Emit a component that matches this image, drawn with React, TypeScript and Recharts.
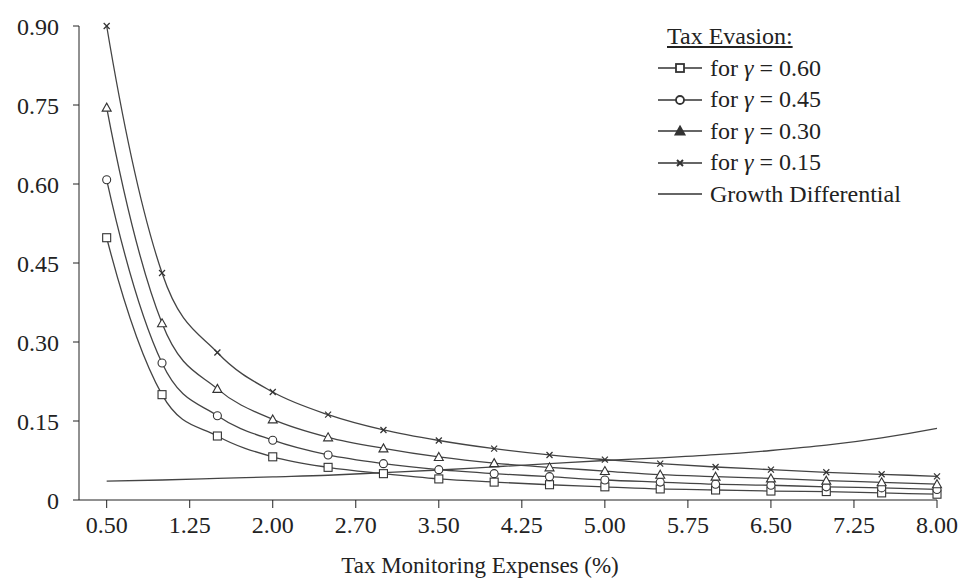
import React from 'react';
import { LineChart, Line, XAxis, YAxis } from 'recharts';

// x positions of the markers (tax monitoring expenses, %)
const expenses = [0.5, 1.0, 1.5, 2.0, 2.5, 3.0, 3.5, 4.0, 4.5, 5.0, 5.5, 6.0, 6.5, 7.0, 7.5, 8.0];

// tax evasion for each gamma
const gamma060 = [0.498, 0.2, 0.1215, 0.082, 0.062, 0.05, 0.04, 0.034, 0.029, 0.025, 0.021, 0.019, 0.017, 0.016, 0.0135, 0.011];
const gamma045 = [0.608, 0.26, 0.16, 0.1135, 0.0855, 0.069, 0.0576, 0.05, 0.0443, 0.038, 0.034, 0.03, 0.028, 0.025, 0.023, 0.02];
const gamma030 = [0.745, 0.3356, 0.211, 0.153, 0.119, 0.098, 0.0817, 0.07, 0.062, 0.055, 0.048, 0.0443, 0.041, 0.0367, 0.0336, 0.03];
const gamma015 = [0.9, 0.431, 0.28, 0.205, 0.162, 0.133, 0.113, 0.0975, 0.0855, 0.0766, 0.069, 0.0627, 0.0576, 0.0526, 0.0488, 0.045];
const growth = [0.036, 0.038, 0.041, 0.044, 0.047, 0.052, 0.057, 0.063, 0.069, 0.075, 0.08, 0.086, 0.094, 0.104, 0.118, 0.136];

const xTicks = [0.5, 1.25, 2.0, 2.75, 3.5, 4.25, 5.0, 5.75, 6.5, 7.25, 8.0];
const xTickLabels = ['0.50', '1.25', '2.00', '2.70', '3.50', '4.25', '5.00', '5.75', '6.50', '7.25', '8.00'];
const yTicks = [0, 0.15, 0.3, 0.45, 0.6, 0.75, 0.9];
const yTickLabels = ['0', '0.15', '0.30', '0.45', '0.60', '0.75', '0.90'];

const legendItems = [
  { key: 'g060', gamma: '0.60', marker: 'square' },
  { key: 'g045', gamma: '0.45', marker: 'circle' },
  { key: 'g030', gamma: '0.30', marker: 'triangle' },
  { key: 'g015', gamma: '0.15', marker: 'cross' },
];

const data = expenses.map((x, i) => ({
  x,
  g060: gamma060[i],
  g045: gamma045[i],
  g030: gamma030[i],
  g015: gamma015[i],
  growth: growth[i],
}));

const FONT = "'Liberation Serif', 'DejaVu Serif', serif";
const INK = '#333';

// cubic hermite curve, tangents from a parabola through neighbouring points
// (keeps the bend in the steep first segment that natural/monotone flatten out)
const parabolicCurve = (context: any) => {
  let xs: number[] = [];
  let ys: number[] = [];
  return {
    areaStart() {},
    areaEnd() {},
    lineStart() {
      xs = [];
      ys = [];
    },
    point(x: number, y: number) {
      xs.push(+x);
      ys.push(+y);
    },
    lineEnd() {
      const n = xs.length;
      if (n === 0) return;
      context.moveTo(xs[0], ys[0]);
      if (n === 1) return;
      if (n === 2) {
        context.lineTo(xs[1], ys[1]);
        return;
      }
      const m: number[] = new Array(n);
      for (let i = 1; i < n - 1; i++) {
        const h0 = xs[i] - xs[i - 1];
        const h1 = xs[i + 1] - xs[i];
        const d0 = (ys[i] - ys[i - 1]) / h0;
        const d1 = (ys[i + 1] - ys[i]) / h1;
        m[i] = (h1 * d0 + h0 * d1) / (h0 + h1);
      }
      {
        const h0 = xs[1] - xs[0];
        const h1 = xs[2] - xs[1];
        const d0 = (ys[1] - ys[0]) / h0;
        const d1 = (ys[2] - ys[1]) / h1;
        m[0] = ((2 * h0 + h1) * d0 - h0 * d1) / (h0 + h1);
      }
      {
        const h0 = xs[n - 2] - xs[n - 3];
        const h1 = xs[n - 1] - xs[n - 2];
        const d0 = (ys[n - 2] - ys[n - 3]) / h0;
        const d1 = (ys[n - 1] - ys[n - 2]) / h1;
        m[n - 1] = ((2 * h1 + h0) * d1 - h1 * d0) / (h0 + h1);
      }
      for (let i = 0; i < n - 1; i++) {
        const dx = xs[i + 1] - xs[i];
        context.bezierCurveTo(
          xs[i] + dx / 3,
          ys[i] + (m[i] * dx) / 3,
          xs[i + 1] - dx / 3,
          ys[i + 1] - (m[i + 1] * dx) / 3,
          xs[i + 1],
          ys[i + 1]
        );
      }
    },
  };
};

const Marker = ({ kind, cx, cy, legend }: any) => {
  if (cx == null || cy == null) return null;
  const sw = legend ? 1.8 : 1.1;
  if (kind === 'square') {
    return <rect x={cx - 4} y={cy - 4} width={8} height={8} fill="#fff" stroke={INK} strokeWidth={sw} />;
  }
  if (kind === 'circle') {
    return <circle cx={cx} cy={cy} r={4} fill="#fff" stroke={INK} strokeWidth={sw} />;
  }
  if (kind === 'triangle') {
    return (
      <polygon
        points={`${cx},${cy - 4.5} ${cx + 4.5},${cy + 3.5} ${cx - 4.5},${cy + 3.5}`}
        fill={legend ? INK : '#fff'}
        stroke={INK}
        strokeWidth={sw}
      />
    );
  }
  return (
    <g stroke={INK} strokeWidth={legend ? 2 : 1.2}>
      <line x1={cx - 3} y1={cy - 3} x2={cx + 3} y2={cy + 3} />
      <line x1={cx - 3} y1={cy + 3} x2={cx + 3} y2={cy - 3} />
    </g>
  );
};

// axis title sits under the page centre, a little left of the plot centre
const XTitle = ({ viewBox }: any) => {
  if (!viewBox) return null;
  return (
    <text
      x={viewBox.x + viewBox.width / 2 - 28}
      y={viewBox.y + viewBox.height - 10}
      textAnchor="middle"
      fill="#222"
      fontFamily={FONT}
      fontSize={23}
    >
      Tax Monitoring Expenses (%)
    </text>
  );
};

const LegendBox = () => (
  <div
    style={{
      position: 'absolute',
      left: 656,
      top: 21,
      fontFamily: FONT,
      fontSize: 24,
      color: '#222',
      lineHeight: '31.5px',
    }}
  >
    <div style={{ paddingLeft: 11 }}>
      <span style={{ textDecoration: 'underline' }}>Tax Evasion:</span>
    </div>
    {legendItems.map((it) => (
      <div key={it.key} style={{ display: 'flex', alignItems: 'center' }}>
        <svg width={46} height={20} style={{ marginRight: 8 }}>
          <line x1={2} y1={10} x2={46} y2={10} stroke={INK} strokeWidth={1.5} />
          <Marker kind={it.marker} cx={24} cy={10} legend />
        </svg>
        <span>
          for <i>γ</i> = {it.gamma}
        </span>
      </div>
    ))}
    <div style={{ display: 'flex', alignItems: 'center' }}>
      <svg width={46} height={20} style={{ marginRight: 8 }}>
        <line x1={2} y1={10} x2={46} y2={10} stroke={INK} strokeWidth={1.5} />
      </svg>
      <span>Growth Differential</span>
    </div>
  </div>
);

const App = () => {
  return (
    <div style={{ position: 'fixed', left: 0, top: 0, width: 959, height: 583, background: '#fff' }}>
      <LineChart
        width={959}
        height={583}
        data={data}
        margin={{ top: 26, right: 22, bottom: 0, left: 0 }}
      >
        <XAxis
          dataKey="x"
          type="number"
          domain={[0.25, 8]}
          ticks={xTicks}
          tickFormatter={(v: number) => xTickLabels[xTicks.indexOf(v)] ?? String(v)}
          height={83}
          tickSize={8}
          tickMargin={8}
          stroke="#222"
          tick={{ fill: '#222', fontFamily: FONT, fontSize: 24 }}
          label={{ value: 'Tax Monitoring Expenses (%)', content: XTitle }}
        />
        <YAxis
          type="number"
          domain={[0, 0.9]}
          ticks={yTicks}
          tickFormatter={(v: number) => yTickLabels[yTicks.indexOf(v)] ?? String(v)}
          width={79}
          tickSize={6}
          tickMargin={14}
          stroke="#222"
          tick={{ fill: '#222', fontFamily: FONT, fontSize: 24 }}
        />
        {legendItems.map((it) => (
          <Line
            key={it.key}
            dataKey={it.key}
            type={parabolicCurve as any}
            stroke="#444"
            strokeWidth={1.3}
            dot={(p: any) => <Marker key={`${it.key}-${p.index}`} kind={it.marker} cx={p.cx} cy={p.cy} />}
            isAnimationActive={false}
          />
        ))}
        <Line
          dataKey="growth"
          type={parabolicCurve as any}
          stroke="#444"
          strokeWidth={1.3}
          dot={false}
          isAnimationActive={false}
        />
      </LineChart>
      <LegendBox />
    </div>
  );
};

export default App;
